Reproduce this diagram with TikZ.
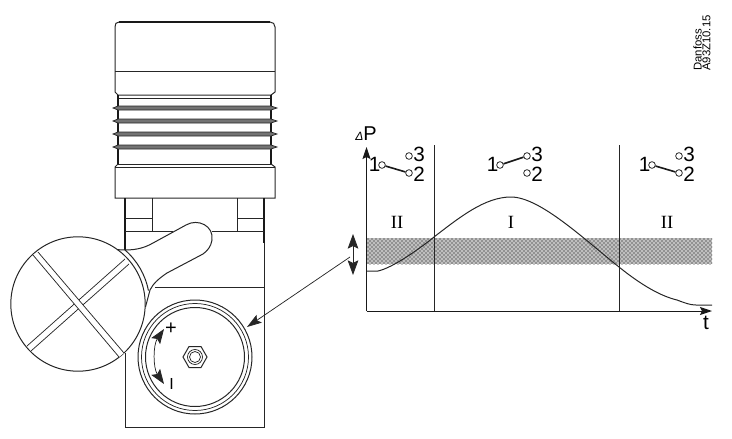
\documentclass[tikz,border=0pt]{standalone}
\usepackage{fontspec}
\setmainfont{Liberation Sans}
\newfontfamily\romanfont{Liberation Serif}
\usetikzlibrary{arrows.meta,patterns}
\tikzset{
  part/.style={color=black!85,line width=0.75pt},
  heavy/.style={color=black!90,line width=1.2pt},
  thin part/.style={color=black!85,line width=0.55pt},
  contact/.style={circle,draw=black!90,fill=white,line width=0.55pt,inner sep=0pt,minimum size=5pt},
  swlabel/.style={inner sep=0pt,font=\fontsize{15.5}{15.5}\selectfont},
  romanlabel/.style={inner sep=0pt,font=\romanfont\fontsize{14}{14}\selectfont},
  axis tip/.style={-{Stealth[length=9pt,width=6pt,inset=1.5pt]},line width=0.75pt,color=black!90},
  big tip/.style={{Stealth[length=11pt,width=8pt,inset=2pt]}-{Stealth[length=11pt,width=8pt,inset=2pt]}}
}
\begin{document}
\begin{tikzpicture}[x=0.75pt,y=0.75pt,yscale=-1,xscale=1]
\useasboundingbox (0,0) rectangle (732,439);

%Cap
\draw [part] (115,27) .. controls (115,24) and (116,22) .. (119,22) -- (270,22) .. controls (273,22) and (275,24) .. (275,27) -- (275,92) -- (271,95) -- (118,95) -- (115,92) -- cycle ;
\draw [heavy] (119,22) -- (270,22) ;
\draw [thin part] (115,71) -- (275,71) ;
%Neck
\draw [part] (118,98) -- (271,98) ;
\draw [heavy] (118,95) -- (118,164) ;
\draw [heavy] (271,95) -- (271,164) ;
\draw [part] (118,164) -- (271,164) ;
%Fins
\foreach \y in {108,121,134,147}{
  \draw [thin part,fill=black!55] (113,\y) -- (118,\y-2) -- (271,\y-2) -- (277,\y) -- (271,\y+2) -- (118,\y+2) -- cycle ;
}
%Lower band
\draw [part] (118,164) -- (115,167) -- (115,198) -- (275,198) -- (275,167) -- (271,164) ;
\draw [thin part] (115,167) -- (275,167) ;
%Legs
\draw [heavy] (125,198) -- (125,250) ;
\draw [heavy] (264,198) -- (264,243) ;
\draw [part] (152.5,198) -- (152.5,231) ;
\draw [part] (237,198) -- (237,231) ;
\draw [thin part] (125,218) -- (152.5,218) ;
\draw [thin part] (237,218) -- (264,218) ;
\draw [thin part] (125,231) -- (173,231) ;
\draw [thin part] (212,231) -- (264,231) ;
%Body
\draw [part] (125,353) -- (125,427) -- (264,427) -- (264,243) ;
\draw [part] (155,287) -- (264,287) ;

%Handle
\draw [part] (117,249.5) .. controls (120,250) and (122,250) .. (125,250) .. controls (138,250) and (146,247) .. (153,243) -- (186,225) .. controls (198,218) and (214,226) .. (212,240) .. controls (211,247) and (207,251) .. (203,254) -- (167,273) .. controls (158,279) and (153,284) .. (150,290) -- (145.5,307) ;

%Big circle
\coordinate (bigc) at (78,304);
\draw [part] (bigc) circle (67.2) ;
\draw [part] (125,250) arc (-49:-11:72) ;
%Cross bars
\draw [thin part] (27,346) -- (125,259) ;
\draw [thin part] (31,351) -- (129,264) ;
\fill [white] (33,255) -- (38,252) -- (124,353) -- (119,357) -- cycle ;
\draw [thin part] (33,255) -- (119,357) ;
\draw [thin part] (38,252) -- (124,353) ;

%Dial
\coordinate (dialc) at (195,357);
\draw [part] (dialc) circle (57) ;
\draw [thin part] (dialc) circle (53.5) ;
\draw [part] (dialc) circle (49.5) ;
%Nut
\draw [part] (183,357) -- (189,346.5) -- (201,346.5) -- (207,357) -- (201,367.5) -- (189,367.5) -- cycle ;
\draw [thin part] (dialc) circle (7.5) ;
\draw [thin part] (dialc) circle (5.5) ;
%Dial arrows
\draw [big tip,thin part] (164,329) .. controls (153,345) and (153,368) .. (164,384) ;
\node (plus) [inner sep=0pt,font=\fontsize{15}{15}\selectfont] at (171,329) {+};
\node (minus) [inner sep=0pt,font=\fontsize{12}{12}\selectfont] at (171.5,384) {I};

%Pointer
\coordinate (ptrstart) at (350,257);
\coordinate (ptrend) at (247,327);
\draw [-{Stealth[length=11pt,width=7pt,inset=2pt]},thin part] (ptrstart) -- (ptrend) ;

%Band
\fill [black!25] (366.5,238) rectangle (712,264) ;
\fill [pattern=crosshatch dots,pattern color=black] (366.5,238) rectangle (712,264) ;

%Axes
\coordinate (origin) at (366.5,311);
\coordinate (ytop) at (366.5,147);
\coordinate (xend) at (712,311);
\draw [axis tip] (origin) -- (ytop) ;
\draw [axis tip] (origin) -- (xend) ;
\draw [part] (434,145) -- (434,311) ;
\draw [part] (619,145) -- (619,311) ;

%Curve
\draw [part] (366.5,271) -- (378,271) .. controls (392,268) and (418,250) .. (434,237) .. controls (460,217) and (485,197) .. (511,197) .. controls (540,197) and (585,240) .. (619,267) .. controls (640,284) and (660,296) .. (677,300) .. controls (685,303) and (690,305) .. (696,305) -- (712,305) ;

%Range arrow
\coordinate (rangetop) at (353,234);
\coordinate (rangebot) at (353,275);
\draw [big tip,thin part] (rangetop) -- (rangebot) ;

%Switches
\foreach \n/\x in {a/382,b/500,c/652}{
  \node (one\n) [contact] at (\x,165) {};
  \node (three\n) [contact] at (\x+27,156) {};
  \node (two\n) [contact] at (\x+27,173) {};
  \node (lone\n) [swlabel] at (\x-7.5,164) {1};
  \node (lthree\n) [swlabel] at (\x+37,154) {3};
  \node (ltwo\n) [swlabel] at (\x+37,174) {2};
}
\draw [heavy] (onea) -- (twoa) ;
\draw [heavy] (oneb) -- (threeb) ;
\draw [heavy] (onec) -- (twoc) ;

% Text Node
\node (dp) [anchor=south west,inner sep=0pt] at (355,140.5) {{\fontsize{9}{9}\selectfont\itshape Δ}\fontsize{15}{15}\selectfont P};
% Text Node
\node (tlabel) [swlabel] at (706,323) {t};
% Text Node
\node (zone1) [romanlabel] at (397,222) {II};
\node (zone2) [romanlabel] at (511,222) {I};
\node (zone3) [romanlabel] at (667,222) {II};
% Text Node
\node (maker) [anchor=west,rotate=90,inner sep=0pt,font=\fontsize{8.5}{8.5}\selectfont] at (697.5,71) {Danfoss};
\node (code) [anchor=west,rotate=90,inner sep=0pt,font=\fontsize{8.5}{8.5}\selectfont] at (706.5,71) {A93Z10.15};
\end{tikzpicture}
\end{document}
